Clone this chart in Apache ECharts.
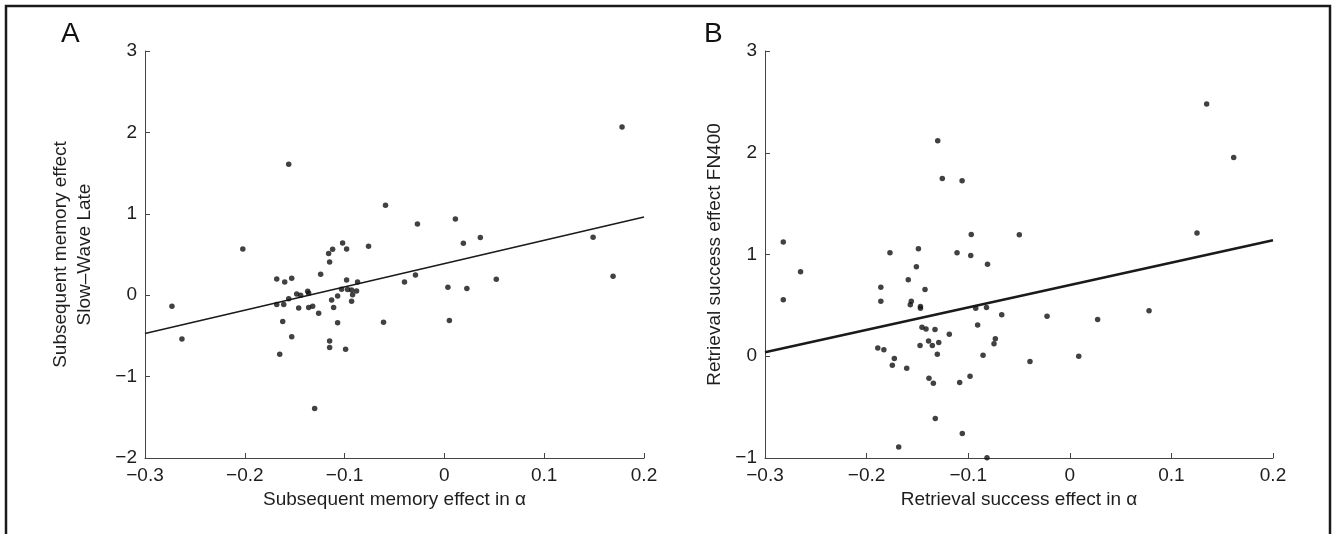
<!DOCTYPE html>
<html>
<head>
<meta charset="utf-8">
<script src="https://cdn.jsdelivr.net/npm/echarts@6/dist/echarts.min.js"></script>
<style>
html,body{margin:0;padding:0;background:#fff;}
#chart{width:1333px;height:534px;}
</style>
</head>
<body>
<div id="chart"></div>
<script>
// Panel A: subsequent memory effect in alpha vs Slow-Wave Late
const pointsA = [
[-0.156,1.608],[-0.059,1.105],[-0.202,0.569],[-0.112,0.564],[-0.102,0.642],[-0.098,0.569],
[-0.076,0.60],[-0.273,-0.136],[-0.263,-0.537],[-0.168,0.20],[-0.160,0.163],[-0.153,0.208],
[-0.168,-0.115],[-0.161,-0.115],[-0.156,-0.045],[-0.162,-0.324],[-0.153,-0.509],[-0.165,-0.726],
[-0.148,0.016],[-0.144,-0.001],[-0.146,-0.156],[-0.137,0.048],[-0.136,0.023],[-0.136,-0.152],
[-0.132,-0.136],[-0.126,-0.222],[-0.124,0.257],[-0.130,-1.393],[-0.116,0.511],[-0.115,0.409],
[-0.113,-0.058],[-0.111,-0.152],[-0.107,-0.009],[-0.107,-0.337],[-0.115,-0.562],[-0.115,-0.644],
[-0.099,-0.664],[-0.103,0.073],[-0.098,0.188],[-0.097,0.069],[-0.093,0.065],[-0.092,0.007],
[-0.093,-0.075],[-0.088,0.053],[-0.087,0.163],[-0.061,-0.333],[-0.027,0.876],[0.011,0.937],
[0.019,0.638],[0.036,0.708],[0.149,0.711],[0.178,2.067],[-0.040,0.163],[-0.029,0.249],
[0.0035,0.097],[0.0225,0.081],[0.052,0.196],[0.005,-0.312],[0.169,0.232]
];
const fitA = [[-0.3,-0.47],[0.2,0.96]];

// Panel B: retrieval success effect in alpha vs FN400
const pointsB = [
[-0.130,2.117],[-0.1255,1.747],[-0.106,1.724],[-0.097,1.197],[-0.282,1.123],[-0.149,1.057],
[-0.265,0.831],[-0.282,0.556],[-0.177,1.018],[-0.151,0.880],[-0.159,0.753],[-0.1425,0.655],
[-0.186,0.677],[-0.186,0.540],[-0.156,0.540],[-0.157,0.507],[-0.147,0.488],[-0.147,0.471],
[-0.111,1.018],[-0.0975,0.991],[-0.081,0.903],[-0.0926,0.471],[-0.082,0.478],[-0.0907,0.308],
[-0.067,0.409],[-0.1455,0.285],[-0.1415,0.269],[-0.1327,0.262],[-0.1186,0.216],[-0.139,0.151],
[-0.1474,0.105],[-0.1353,0.105],[-0.129,0.134],[-0.1304,0.020],[-0.189,0.082],[-0.183,0.063],
[-0.1727,-0.023],[-0.1747,-0.088],[-0.1605,-0.118],[-0.1386,-0.216],[-0.1343,-0.265],[-0.1084,-0.258],
[-0.0982,-0.196],[-0.0854,0.010],[-0.0733,0.171],[-0.0746,0.122],[-0.1324,-0.611],[-0.1058,-0.759],
[-0.1684,-0.893],[-0.0815,-0.997],[0.1347,2.480],[0.1613,1.953],[-0.0497,1.194],[0.1252,1.211],
[-0.0224,0.393],[-0.0392,-0.052],[0.0274,0.360],[0.0088,0.0],[0.078,0.448]
];
const fitB = [[-0.3,0.04],[0.2,1.14]];

const xTicks = [-0.3,-0.2,-0.1,0,0.1,0.2];
const yTicksA = [-2,-1,0,1,2,3];
const yTicksB = [-1,0,1,2,3];

const FONT = '"Liberation Sans", Arial, Helvetica, sans-serif';
const INK = '#1e1e1e';
const fmt = v => {
  const r = Math.round(v*10)/10;
  return String(r).replace('-', '\u2212');
};

function xAxis(gridIndex, name) {
  return {
    type: 'value', gridIndex,
    min: xTicks[0], max: xTicks[xTicks.length-1], interval: 0.1,
    name, nameLocation: 'middle', nameGap: 29,
    nameTextStyle: {fontFamily: FONT, fontSize: 19, color: INK},
    axisLine: {show: true, onZero: false, lineStyle: {color: '#444', width: 1}},
    axisTick: {show: true, inside: true, length: 5, lineStyle: {color: '#444'}},
    axisLabel: {fontFamily: FONT, fontSize: 19, color: INK, margin: 8, formatter: fmt},
    splitLine: {show: false}
  };
}
function yAxis(gridIndex, ticks, name, gap) {
  return {
    type: 'value', gridIndex,
    min: ticks[0], max: ticks[ticks.length-1], interval: 1,
    name, nameLocation: 'middle', nameGap: gap, nameRotate: 90,
    nameTextStyle: {fontFamily: FONT, fontSize: 19, color: INK, lineHeight: 24},
    axisLine: {show: true, onZero: false, lineStyle: {color: '#444', width: 1}},
    axisTick: {show: true, inside: true, length: 5, lineStyle: {color: '#444'}},
    axisLabel: {fontFamily: FONT, fontSize: 19, color: INK, margin: 8, formatter: fmt},
    splitLine: {show: false}
  };
}

const chart = echarts.init(document.getElementById('chart'), null, {renderer: 'canvas'});
chart.setOption({
  backgroundColor: '#fff',
  animation: false,
  grid: [
    {left: 145, right: 689, top: 51, bottom: 76},
    {left: 765, right: 60, top: 51, bottom: 76}
  ],
  xAxis: [
    xAxis(0, 'Subsequent memory effect in \u03b1'),
    xAxis(1, 'Retrieval success effect in \u03b1')
  ],
  yAxis: [
    yAxis(0, yTicksA, 'Subsequent memory effect\nSlow\u2013Wave Late', 48),
    yAxis(1, yTicksB, 'Retrieval success effect FN400', 38)
  ],
  graphic: [
    {type: 'rect', shape: {x: 6, y: 6, width: 1324, height: 600},
     style: {fill: 'none', stroke: '#1a1a1a', lineWidth: 2.5}, silent: true},
    {type: 'text', left: 61, top: 20, style: {text: 'A', font: '28px ' + FONT, fill: '#111'}},
    {type: 'text', left: 704, top: 20, style: {text: 'B', font: '28px ' + FONT, fill: '#111'}}
  ],
  series: [
    {type: 'line', xAxisIndex: 0, yAxisIndex: 0, data: fitA, symbol: 'none',
     lineStyle: {color: '#1a1a1a', width: 1.6}, z: 2},
    {type: 'scatter', xAxisIndex: 0, yAxisIndex: 0, data: pointsA, symbolSize: 5.5,
     itemStyle: {color: '#111'}, z: 3},
    {type: 'line', xAxisIndex: 1, yAxisIndex: 1, data: fitB, symbol: 'none',
     lineStyle: {color: '#1a1a1a', width: 2.6}, z: 2},
    {type: 'scatter', xAxisIndex: 1, yAxisIndex: 1, data: pointsB, symbolSize: 5.5,
     itemStyle: {color: '#111'}, z: 3}
  ]
});
</script>
</body>
</html>
